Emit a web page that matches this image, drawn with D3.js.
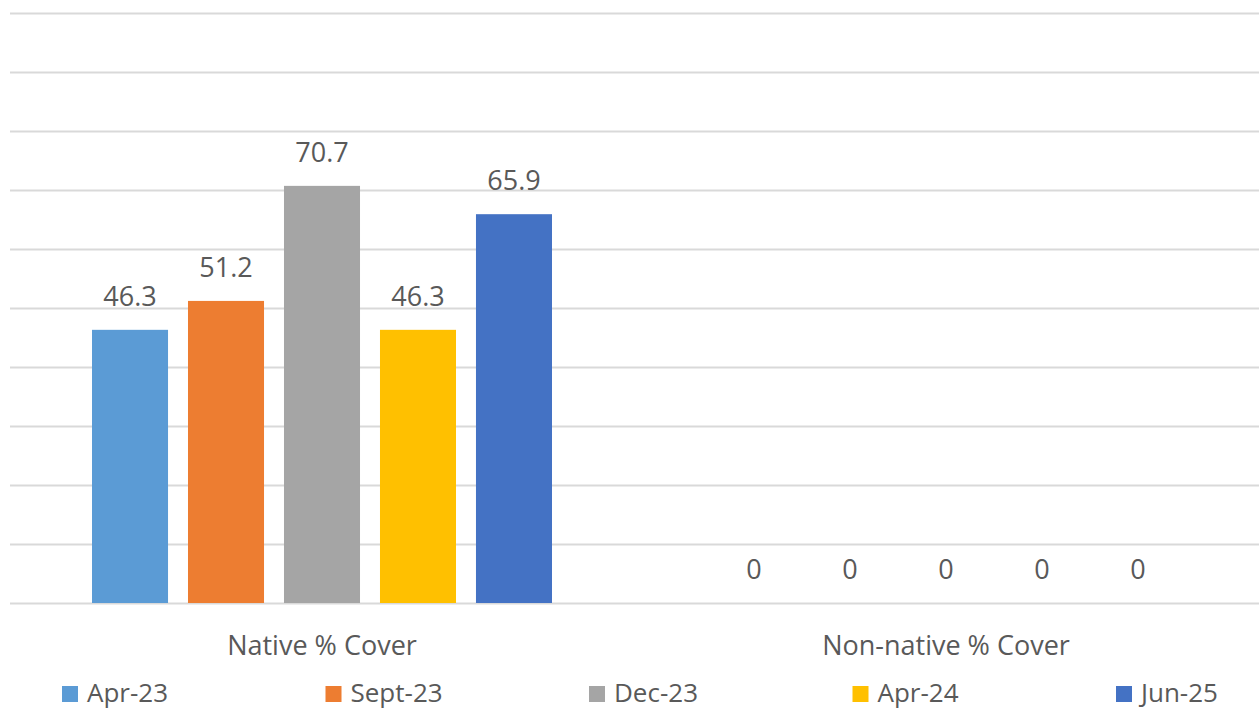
<!DOCTYPE html>
<html>
<head>
<meta charset="utf-8">
<script src="https://cdn.jsdelivr.net/npm/d3@7"></script>
<style>
  html, body { margin: 0; padding: 0; background: #ffffff; }
  svg { display: block; }
  text { font-family: "Open Sans", "Noto Sans", sans-serif; fill: #595959; }
</style>
</head>
<body>
<svg id="chart" width="1259" height="710"></svg>
<script>
// Survey categories along the x axis
const categories = ["Native % Cover", "Non-native % Cover"];

// Survey dates (one series each)
const seriesNames = ["Apr-23", "Sept-23", "Dec-23", "Apr-24", "Jun-25"];

// Percent cover per survey, in category order
const apr23  = [46.3, 0];
const sept23 = [51.2, 0];
const dec23  = [70.7, 0];
const apr24  = [46.3, 0];
const jun25  = [65.9, 0];

const seriesColors = ["#5B9BD5", "#ED7D31", "#A5A5A5", "#FFC000", "#4472C4"];

// Value gridlines
const yTicks = [0, 10, 20, 30, 40, 50, 60, 70, 80, 90, 100];

const seriesValues = [apr23, sept23, dec23, apr24, jun25];
const series = seriesNames.map((name, i) => ({ name, values: seriesValues[i], color: seriesColors[i] }));

const svg = d3.select("#chart");
const plot = { left: 10, right: 1258, top: 13, bottom: 603 };

const x0 = d3.scaleBand().domain(categories).range([plot.left, plot.right]).padding(0);
const groupPad = 82;
const x1 = d3.scaleBand().domain(seriesNames)
  .range([groupPad, x0.bandwidth() - groupPad])
  .paddingInner(0.208).paddingOuter(0);
const y = d3.scaleLinear().domain([0, 100]).range([plot.bottom, plot.top]);

// Horizontal gridlines
const yAxis = d3.axisLeft(y).tickValues(yTicks)
  .tickSize(-(plot.right - plot.left + 1)).tickFormat("");
const gy = svg.append("g").attr("transform", `translate(${plot.left},0)`).call(yAxis);
gy.select(".domain").remove();
gy.selectAll(".tick line").attr("stroke", "#d9d9d9").attr("stroke-width", 2);

// Bars
const groups = svg.append("g").selectAll("g")
  .data(categories)
  .join("g")
  .attr("transform", c => `translate(${x0(c)},0)`);

groups.selectAll("rect")
  .data((c, ci) => series.map(s => ({ name: s.name, value: s.values[ci], color: s.color })))
  .join("rect")
  .attr("x", d => x1(d.name))
  .attr("y", d => y(d.value))
  .attr("width", x1.bandwidth())
  .attr("height", d => y(0) - y(d.value))
  .attr("fill", d => d.color);

// Value labels
groups.selectAll("text.val")
  .data((c, ci) => series.map(s => ({ name: s.name, value: s.values[ci] })))
  .join("text")
  .attr("class", "val")
  .attr("x", d => x1(d.name) + x1.bandwidth() / 2)
  .attr("y", d => y(d.value) - 24)
  .attr("text-anchor", "middle")
  .attr("font-size", 27)
  .text(d => d.value === 0 ? "0" : d3.format(".1f")(d.value));

// Category axis labels
const xAxis = d3.axisBottom(x0).tickSize(0).tickPadding(0);
const gx = svg.append("g").attr("transform", `translate(0,${plot.bottom})`).call(xAxis);
gx.select(".domain").remove();
gx.selectAll(".tick text")
  .attr("font-size", 27)
  .attr("font-family", null)
  .attr("fill", "#595959")
  .attr("dy", null)
  .attr("y", 52);

// Legend
const legendX = d3.scalePoint().domain(seriesNames).range([62, 1116]);
const legend = svg.append("g").selectAll("g")
  .data(series)
  .join("g")
  .attr("transform", d => `translate(${legendX(d.name)},686)`);
legend.append("rect")
  .attr("width", 16).attr("height", 16)
  .attr("fill", d => d.color);
legend.append("text")
  .attr("x", 25).attr("y", 16)
  .attr("font-size", 26)
  .text(d => d.name);
</script>
</body>
</html>
